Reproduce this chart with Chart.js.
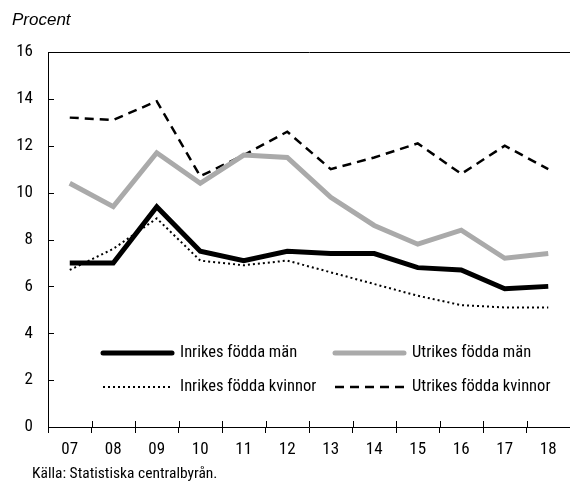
<!DOCTYPE html>
<html>
<head>
<meta charset="utf-8">
<script src="https://cdn.jsdelivr.net/npm/chart.js@4"></script>
<style>
	html, body { margin: 0; padding: 0; background: #fff; }
	#wrap { position: relative; width: 570px; height: 481px; }
	#yTitle { position: absolute; left: 12px; top: 11px; font: italic 17px/17px "Liberation Sans", Arial, sans-serif; color: #000; }
	#source { position: absolute; left: 32px; top: 466px; font: 15.5px/15.5px "Roboto Condensed", sans-serif; color: #000; }
</style>
</head>
<body>
<div id="wrap">
	<canvas id="myChart" width="570" height="481"></canvas>
	<div id="yTitle">Procent</div>
	<div id="source">Källa: Statistiska centralbyrån.</div>
</div>
<script>
const years = ['07', '08', '09', '10', '11', '12', '13', '14', '15', '16', '17', '18'];
const inrikesMan = [7.0, 7.0, 9.4, 7.5, 7.1, 7.5, 7.4, 7.4, 6.8, 6.7, 5.9, 6.0];
const utrikesMan = [10.4, 9.4, 11.7, 10.4, 11.6, 11.5, 9.8, 8.6, 7.8, 8.4, 7.2, 7.4];
const inrikesKvinnor = [6.7, 7.6, 8.9, 7.1, 6.9, 7.1, 6.6, 6.1, 5.6, 5.2, 5.1, 5.1];
const utrikesKvinnor = [13.2, 13.1, 13.9, 10.7, 11.6, 12.6, 11.0, 11.5, 12.1, 10.8, 12.0, 11.0];
const yTicks = [0, 2, 4, 6, 8, 10, 12, 14, 16];

const font = '"Roboto Condensed", "Liberation Sans", sans-serif';

// legend drawn inside the plot, two columns
const legendPlugin = {
	id: 'innerLegend',
	afterDraw(chart) {
		const ctx = chart.ctx;
		const spots = [
			{ x: 103, y: 353 },
			{ x: 335, y: 353 },
			{ x: 103, y: 387 },
			{ x: 335, y: 387 },
		];
		ctx.save();
		ctx.font = '16.5px ' + font;
		ctx.textBaseline = 'middle';
		ctx.fillStyle = '#000';
		chart.data.datasets.forEach((ds, i) => {
			const p = spots[i];
			ctx.beginPath();
			ctx.strokeStyle = ds.borderColor;
			ctx.lineWidth = ds.borderWidth;
			ctx.setLineDash(ds.borderDash || []);
			ctx.lineCap = ds.borderDash ? 'butt' : 'round';
			ctx.moveTo(p.x, p.y);
			ctx.lineTo(p.x + 69, p.y);
			ctx.stroke();
			ctx.setLineDash([]);
			ctx.fillText(ds.label, p.x + 77, p.y);
		});
		ctx.restore();
	},
};

// inward y ticks and the upper half of the x ticks
const tickPlugin = {
	id: 'innerTicks',
	afterDraw(chart) {
		const ctx = chart.ctx;
		const x = chart.scales.x;
		const y = chart.scales.y;
		const area = chart.chartArea;
		ctx.save();
		ctx.strokeStyle = '#000';
		ctx.lineWidth = 1;
		ctx.beginPath();
		for (let i = 1; i <= years.length; i++) {
			const px = Math.round(x.getPixelForValue(i - 0.5)) + 0.5;
			ctx.moveTo(px, area.bottom - 6);
			ctx.lineTo(px, area.bottom);
		}
		yTicks.slice(1, -1).forEach((v) => {
			const py = Math.round(y.getPixelForValue(v)) + 0.5;
			ctx.moveTo(area.left, py);
			ctx.lineTo(area.left + 6, py);
		});
		ctx.stroke();
		ctx.restore();
	},
};

const ctx = document.getElementById('myChart').getContext('2d');
const myChart = new Chart(ctx, {
	type: 'line',
	data: {
		labels: years,
		datasets: [
			{
				label: 'Inrikes födda män',
				data: inrikesMan,
				borderColor: '#000000',
				borderWidth: 5,
				order: 1,
			},
			{
				label: 'Utrikes födda män',
				data: utrikesMan,
				borderColor: '#aaaaaa',
				borderWidth: 5,
				order: 2,
			},
			{
				label: 'Inrikes födda kvinnor',
				data: inrikesKvinnor,
				borderColor: '#000000',
				borderWidth: 2,
				borderDash: [2, 3],
				order: 3,
			},
			{
				label: 'Utrikes födda kvinnor',
				data: utrikesKvinnor,
				borderColor: '#000000',
				borderWidth: 2.5,
				borderDash: [9, 6],
				order: 4,
			},
		],
	},
	options: {
		responsive: false,
		animation: false,
		layout: { padding: { top: 52, right: 0, left: 0, bottom: 0 } },
		elements: {
			point: { radius: 0 },
			line: { tension: 0, borderJoinStyle: 'miter', fill: false },
		},
		plugins: {
			legend: { display: false },
			tooltip: { enabled: false },
		},
		scales: {
			x: {
				offset: true,
				afterFit: (scale) => { scale.height = 54; },
				border: { color: '#000', width: 1 },
				grid: {
					offset: true,
					drawOnChartArea: false,
					color: '#000',
					tickLength: 6,
				},
				ticks: {
					color: '#000',
					font: { family: font, size: 17 },
					padding: 7,
					maxRotation: 0,
				},
			},
			y: {
				min: 0,
				max: 16,
				afterFit: (scale) => { scale.width = 48; },
				afterBuildTicks: (scale) => { scale.ticks = yTicks.map((v) => ({ value: v })); },
				border: { color: '#000', width: 1 },
				grid: {
					color: (c) => (c.tick && c.tick.value === 16 ? '#000' : 'rgba(0,0,0,0)'),
					drawTicks: false,
				},
				ticks: {
					color: '#000',
					font: { family: font, size: 17 },
					padding: 15,
				},
			},
		},
	},
	plugins: [legendPlugin, tickPlugin],
});
</script>
</body>
</html>
